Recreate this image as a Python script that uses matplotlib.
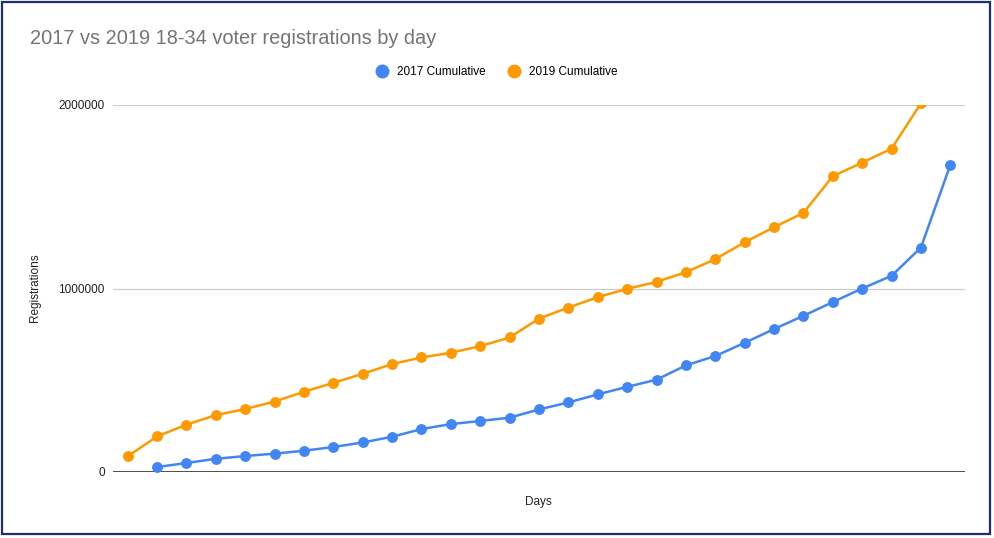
import matplotlib
matplotlib.use("Agg")
import matplotlib.pyplot as plt
from matplotlib.patches import Rectangle

days = list(range(29))
cum_2017 = [None, 27000, 49000, 72000, 87000, 100000, 116000, 136000, 161000, 192000,
            234000, 261000, 278000, 296000, 341000, 379000, 423000, 464000, 503000,
            581000, 632000, 704000, 779000, 851000, 926000, 1000000, 1069000, 1223000, 1673000]
cum_2019 = [85000, 194000, 258000, 310000, 343000, 384000, 437000, 486000, 535000, 588000,
            624000, 650000, 686000, 733000, 836000, 896000, 953000, 998000, 1036000,
            1089000, 1160000, 1252000, 1334000, 1412000, 1612000, 1686000, 1762000, 2009000, None]
y_ticks = [0, 1000000, 2000000]
y_tick_labels = ["0", "1000000", "2000000"]

plt.rcParams['font.family'] = ['Liberation Sans', 'DejaVu Sans']

W, H = 994, 538
fig = plt.figure(figsize=(W / 100, H / 100), dpi=100)
ax = fig.add_axes([113 / W, (H - 472) / H, (965 - 113) / W, (472 - 105) / H])

def xy(vals):
    xs = [d for d, v in zip(days, vals) if v is not None]
    ys = [v for v in vals if v is not None]
    return xs, ys

x17, y17 = xy(cum_2017)
x19, y19 = xy(cum_2019)
ax.plot(x17, y17, color="#4285F4", lw=1.8, marker="o", ms=6.8, label="2017 Cumulative", zorder=3)
ax.plot(x19, y19, color="#FF9900", lw=1.8, marker="o", ms=6.8, label="2019 Cumulative", zorder=3)

ax.set_xlim(-0.5, 28.5)
ax.set_ylim(0, 2000000)
ax.set_yticks(y_ticks)
ax.set_yticklabels(y_tick_labels, fontsize=8.5, color="#222222")
ax.set_xticks([])
ax.tick_params(axis="y", length=0, pad=6)
for s in ax.spines.values():
    s.set_visible(False)
ax.grid(axis="y", color="#cccccc", lw=0.9)
ax.axhline(0, color="#333333", lw=1.2, zorder=2)

fig.text(35 / W, (H - 288) / H, "Registrations", rotation=90, ha="center", va="center",
         fontsize=8.5, color="#222222")
fig.text(538 / W, (H - 502) / H, "Days", ha="center", va="center", fontsize=8.5, color="#222222")

fig.text(30 / W, (H - 39) / H, "2017 vs 2019 18-34 voter registrations by day", ha="left", va="center",
         fontsize=14.4, color="#757575")

leg = fig.legend(loc="center", bbox_to_anchor=(497 / W, (H - 72) / H), ncol=2, frameon=False,
                 fontsize=8.5, handlelength=0.9, handletextpad=0.8, columnspacing=2.0)
for h in leg.legend_handles:
    h.set_linestyle("none")
    h.set_markersize(9)

fig.patches.append(Rectangle((2 / W, 4 / H), 988 / W, 532 / H, transform=fig.transFigure,
                             fill=False, edgecolor="#1f2f6e", lw=1.6))

fig.savefig("out.png", dpi=100)
